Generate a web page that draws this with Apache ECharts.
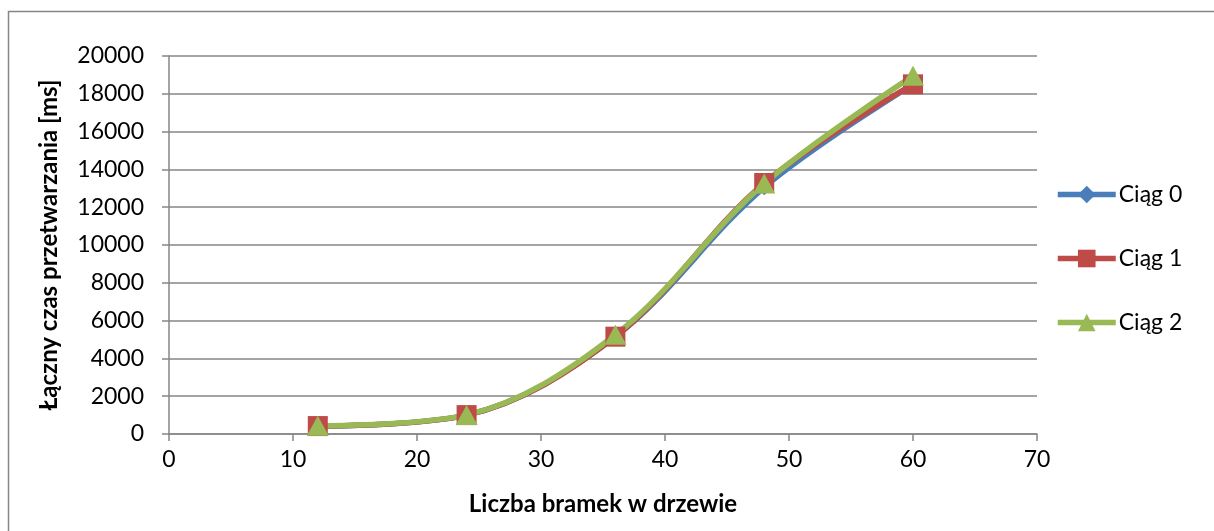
<!DOCTYPE html>
<html>
<head>
<meta charset="utf-8">
<script src="https://cdn.jsdelivr.net/npm/echarts@6/dist/echarts.min.js"></script>
<style>
  html, body { margin: 0; padding: 0; background: #fff; }
  #chart { width: 1214px; height: 531px; }
</style>
</head>
<body>
<div id="chart"></div>
<script>
// Liczba bramek w drzewie (x) i łączny czas przetwarzania w ms (y)
const gates = [12, 24, 36, 48, 60];
const seriesNames = ['Ciąg 0', 'Ciąg 1', 'Ciąg 2'];
const ciag0 = [420, 1000, 5150, 13050, 18500];
const ciag1 = [420, 1000, 5150, 13280, 18500];
const ciag2 = [430, 1010, 5250, 13250, 18950];
const seriesValues = [ciag0, ciag1, ciag2];

const colors = ['#4A7EBB', '#BE4B48', '#98B954'];
const symbols = ['diamond', 'rect', 'triangle'];
const symbolSizes = [16, 20, [22, 20]];
const fontFamily = 'Lato, "Noto Sans", sans-serif';
const gridColor = '#868686';

const chart = echarts.init(document.getElementById('chart'), null, { renderer: 'canvas' });

const series = seriesNames.map((name, i) => ({
  name: name,
  type: 'line',
  smooth: 0.35,
  data: gates.map((g, k) => [g, seriesValues[i][k]]),
  symbol: symbols[i],
  symbolSize: symbolSizes[i],
  showAllSymbol: true,
  itemStyle: { color: colors[i], opacity: 1 },
  lineStyle: { color: colors[i], width: 5.5 },
  emphasis: { disabled: true },
  animation: false
}));

chart.setOption({
  animation: false,
  textStyle: { fontFamily: fontFamily },
  graphic: [{
    type: 'rect',
    shape: { x: 8.5, y: 11.5, width: 1300, height: 600 },
    style: { fill: 'none', stroke: '#868686', lineWidth: 1.5 },
    silent: true
  }],
  grid: { left: 169, right: 177, top: 56, bottom: 97, containLabel: false },
  legend: {
    orient: 'vertical',
    left: 1050,
    top: 178,
    itemWidth: 58,
    itemHeight: 22,
    itemGap: 41,
    data: seriesNames,
    lineStyle: { width: 5.5 },
    textStyle: { fontSize: 23, color: '#000', fontFamily: fontFamily, padding: [0, 0, 0, -2] }
  },
  xAxis: {
    type: 'value',
    min: 0,
    max: 70,
    interval: 10,
    name: 'Liczba bramek w drzewie',
    nameLocation: 'middle',
    nameGap: 58,
    nameTextStyle: { fontSize: 24, fontWeight: 'bold', color: '#000', fontFamily: fontFamily },
    axisLine: { show: true, lineStyle: { color: gridColor, width: 1.5 } },
    axisTick: { show: true, length: 7, inside: false, lineStyle: { color: gridColor, width: 1.5 } },
    axisLabel: { fontSize: 23, color: '#000', margin: 14, fontFamily: fontFamily },
    splitLine: { show: false }
  },
  yAxis: {
    type: 'value',
    min: 0,
    max: 20000,
    interval: 2000,
    name: 'Łączny czas przetwarzania [ms]',
    nameLocation: 'middle',
    nameRotate: 90,
    nameGap: 108,
    nameTextStyle: { fontSize: 24, fontWeight: 'bold', color: '#000', fontFamily: fontFamily },
    axisLine: { show: true, lineStyle: { color: gridColor, width: 1.5 } },
    axisTick: { show: true, length: 7, inside: false, lineStyle: { color: gridColor, width: 1.5 } },
    axisLabel: { fontSize: 23, color: '#000', margin: 25, fontFamily: fontFamily, formatter: v => String(v) },
    splitLine: { show: true, lineStyle: { color: gridColor, width: 1.5 } }
  },
  series: series
});
</script>
</body>
</html>
